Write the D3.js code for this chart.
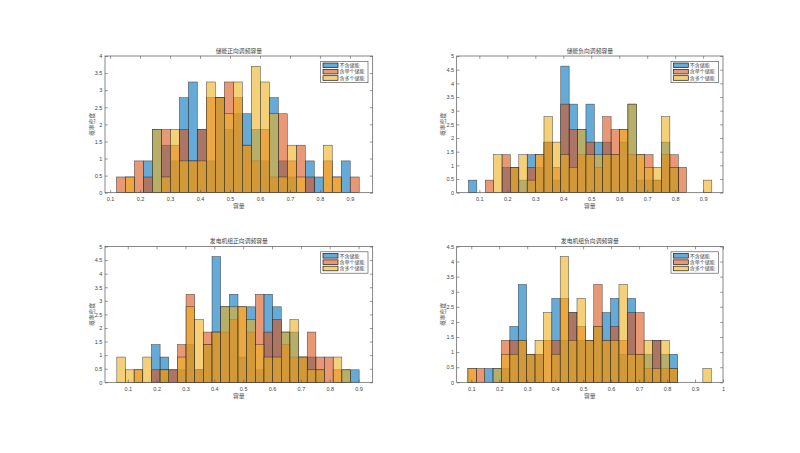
<!DOCTYPE html>
<html><head><meta charset="utf-8">
<script src="https://cdn.jsdelivr.net/npm/d3@7/dist/d3.min.js"></script>
<style>body{margin:0;background:#fff} svg{display:block}</style>
</head><body><svg id="c" width="800" height="453"></svg>
<script>
// ---------- data ----------
const titles = ["储能正向调频容量", "储能负向调频容量", "发电机组正向调频容量", "发电机组负向调频容量"];
const seriesNames = ["不含储能", "含单个储能", "含多个储能"];
const xLabel = "容量";
const yLabel = "概率密度";

const binWidth = 0.03;
const binStarts = [0.121, 0.061, 0.062, 0.088];

// panel 1
const p1None   = [0,0,0,0.93,1.85,1.39,0.93,2.78,3.24,1.85,0.93,2.78,1.85,2.31,2.31,1.85,0.93,2.78,0.93,0.46,0,0.93,0.46,0,0,0.93,0];
const p1Single = [0.46,0.46,0.93,0.46,0,1.85,1.39,1.85,0.93,1.85,2.78,2.78,3.24,2.78,1.39,0.93,1.85,0.46,2.31,0.93,1.39,0.46,0,0.93,0.46,0,0.46];
const p1Multi  = [0,0.46,0,0,1.85,0.46,1.85,0.93,0.93,0.93,3.24,2.78,2.31,3.24,1.39,3.70,3.24,2.31,0.46,1.39,0.46,0,0,1.39,0.46,0,0];
// panel 2
const p2None   = [0.46,0,0,0,0.93,0.93,0.46,1.39,0.93,1.85,0.46,4.63,3.24,2.31,3.24,1.85,1.85,1.39,1.85,3.24,0.46,0.46,0.46,1.85,0.93,0,0,0,0];
const p2Single = [0,0,0.46,0,1.39,0.93,0,0.93,1.39,1.85,0.93,3.24,2.31,1.39,1.85,0.93,2.78,2.31,2.31,1.39,1.39,1.39,0.46,1.39,1.39,0.93,0,0,0];
const p2Multi  = [0,0,0,1.39,0,0.93,1.39,0.46,1.39,2.78,1.85,1.39,0.93,2.31,1.39,1.39,1.39,1.39,2.31,3.24,1.39,0.93,0.93,2.78,0.93,0,0,0,0.46];
// panel 3
const p3None   = [0,0,0,0,1.39,0.93,0.46,0.46,1.39,0.46,1.39,4.63,2.78,3.24,0.93,2.78,0.46,3.24,2.78,1.85,1.85,0.93,0.93,0.46,0,0,0.46,0.46];
const p3Single = [0,0,0.46,0,0.46,0.46,0.46,1.39,3.24,0.46,1.85,1.85,1.85,2.31,2.78,1.85,3.24,1.85,2.31,1.39,0.93,0.93,1.85,0.93,0.93,0.46,0,0];
const p3Multi  = [0.93,0.46,0.46,0.93,0,0.46,0,0.93,2.78,2.31,1.39,1.85,2.78,2.78,2.78,2.31,1.39,0.93,0.93,1.85,2.31,0.93,0.46,0.46,0,0.93,0.46,0];
// panel 4
const p4None   = [0,0,0.46,0.46,0.46,1.85,3.24,0.93,0.93,0,2.78,1.39,2.31,1.39,1.39,1.85,2.31,2.78,0.93,2.78,0.93,0.93,1.39,0.93,0.93,0,0,0,0];
const p4Single = [0.46,0.46,0,0,1.39,1.39,1.39,0.93,0.93,1.39,1.39,2.78,2.31,1.85,1.39,3.24,1.39,1.85,1.39,2.31,2.31,0.46,1.39,0.46,0.46,0,0,0,0];
const p4Multi  = [0.46,0,0,0.46,0.93,0.93,1.39,0.93,1.39,2.31,0.93,4.17,1.39,2.78,1.39,1.85,1.39,1.39,3.24,0.93,0.93,1.39,0.46,1.39,0.46,0,0,0,0.46];

const xTicksA = [0.1,0.2,0.3,0.4,0.5,0.6,0.7,0.8,0.9];
const xTicksB = [0.1,0.2,0.3,0.4,0.5,0.6,0.7,0.8,0.9,1];
const yTicks4 = [0,0.5,1,1.5,2,2.5,3,3.5,4];
const yTicks5 = [0,0.5,1,1.5,2,2.5,3,3.5,4,4.5,5];
const yTicks45 = [0,0.5,1,1.5,2,2.5,3,3.5,4,4.5];

const panelSeries = [[p1None,p1Single,p1Multi],[p2None,p2Single,p2Multi],[p3None,p3Single,p3Multi],[p4None,p4Single,p4Multi]];

// ---------- layout ----------
const panels = [
  {left:105,   right:372.7, top:56,    bottom:192.7, xDomain:[0.083,0.976], yMax:4,   xt:xTicksA, yt:yTicks4},
  {left:456.7, right:723,   top:56,    bottom:192.7, xDomain:[0.019,0.971], yMax:5,   xt:xTicksA, yt:yTicks5},
  {left:105,   right:372.7, top:246.5, bottom:382.3, xDomain:[0.021,0.949], yMax:5,   xt:xTicksA, yt:yTicks5},
  {left:456.7, right:723,   top:246.5, bottom:382.3, xDomain:[0.048,1.0],   yMax:4.5, xt:xTicksB, yt:yTicks45}
];
const colors = ["#0072BD","#D95319","#EDB120"];
const numFont = "'Liberation Sans', Arial, sans-serif";
const cjkFont = "'Noto Sans CJK SC', sans-serif";
const axisColor = "#555";

const svg = d3.select("#c");
svg.append("rect").attr("width",800).attr("height",453).attr("fill","#fff");

panels.forEach((p, i) => {
  const x = d3.scaleLinear().domain(p.xDomain).range([p.left, p.right]);
  const y = d3.scaleLinear().domain([0, p.yMax]).range([p.bottom, p.top]);
  const g = svg.append("g");

  // bars
  panelSeries[i].forEach((vals, s) => {
    const data = vals.map((v, j) => ({v, j})).filter(d => d.v > 0);
    g.append("g").selectAll("rect").data(data).join("rect")
      .attr("x", d => x(binStarts[i] + d.j * binWidth))
      .attr("width", d => x(binStarts[i] + (d.j + 1) * binWidth) - x(binStarts[i] + d.j * binWidth))
      .attr("y", d => y(d.v))
      .attr("height", d => y(0) - y(d.v))
      .attr("fill", colors[s]).attr("fill-opacity", 0.6)
      .attr("stroke", "#262626").attr("stroke-width", 0.5).attr("stroke-opacity", 0.85);
  });

  // axes
  const styleAxis = sel => {
    sel.select(".domain").remove();
    sel.selectAll("line").attr("stroke", axisColor).attr("stroke-width", 0.6);
    sel.selectAll("text").attr("fill", "#444").style("font-family", numFont).style("font-size", "5.5px");
  };
  g.append("g").attr("transform", `translate(0,${p.bottom})`)
    .call(d3.axisBottom(x).tickValues(p.xt).tickSize(-2.8).tickPadding(4.6).tickFormat(d => String(d)))
    .call(styleAxis);
  g.append("g").attr("transform", `translate(0,${p.top})`)
    .call(d3.axisTop(x).tickValues(p.xt).tickSize(-2.8).tickFormat(""))
    .call(styleAxis);
  g.append("g").attr("transform", `translate(${p.left},0)`)
    .call(d3.axisLeft(y).tickValues(p.yt).tickSize(-2.8).tickPadding(2.6).tickFormat(d => String(d)))
    .call(styleAxis);
  g.append("g").attr("transform", `translate(${p.right},0)`)
    .call(d3.axisRight(y).tickValues(p.yt).tickSize(-2.8).tickFormat(""))
    .call(styleAxis);
  g.append("rect").attr("x", p.left).attr("y", p.top)
    .attr("width", p.right - p.left).attr("height", p.bottom - p.top)
    .attr("fill", "none").attr("stroke", axisColor).attr("stroke-width", 0.7);

  // title and labels
  const cx = (p.left + p.right) / 2;
  g.append("text").attr("x", cx).attr("y", p.top - 3.5).attr("text-anchor", "middle")
    .style("font-family", cjkFont).style("font-size", "5.8px").attr("fill", "#444").text(titles[i]);
  g.append("text").attr("x", cx).attr("y", p.bottom + 15.5).attr("text-anchor", "middle")
    .style("font-family", cjkFont).style("font-size", "5.8px").attr("fill", "#555").text(xLabel);
  const ly = (p.top + p.bottom) / 2;
  g.append("text").attr("transform", `translate(${p.left - 13.5},${ly}) rotate(-90)`)
    .attr("text-anchor", "middle").attr("dy", "0.35em")
    .style("font-family", cjkFont).style("font-size", "5.8px").attr("fill", "#555").text(yLabel);

  // legend
  const lw = 47.3, lh = 21.4;
  const lx = p.right - 4.7 - lw, lyTop = p.top + 5.3;
  const lg = g.append("g");
  lg.append("rect").attr("x", lx).attr("y", lyTop).attr("width", lw).attr("height", lh)
    .attr("fill", "#fff").attr("stroke", "#444").attr("stroke-width", 0.6);
  seriesNames.forEach((name, s) => {
    const ry = lyTop + 4 + s * 6.35;
    lg.append("rect").attr("x", lx + 2.3).attr("y", ry - 2.3).attr("width", 15).attr("height", 4.6)
      .attr("fill", colors[s]).attr("fill-opacity", 0.6)
      .attr("stroke", "#1a1a1a").attr("stroke-width", 0.7);
    lg.append("text").attr("x", lx + 18.8).attr("y", ry).attr("dy", "0.35em")
      .style("font-family", cjkFont).style("font-size", "5px").attr("fill", "#444").text(name);
  });
});
</script>
</body></html>
